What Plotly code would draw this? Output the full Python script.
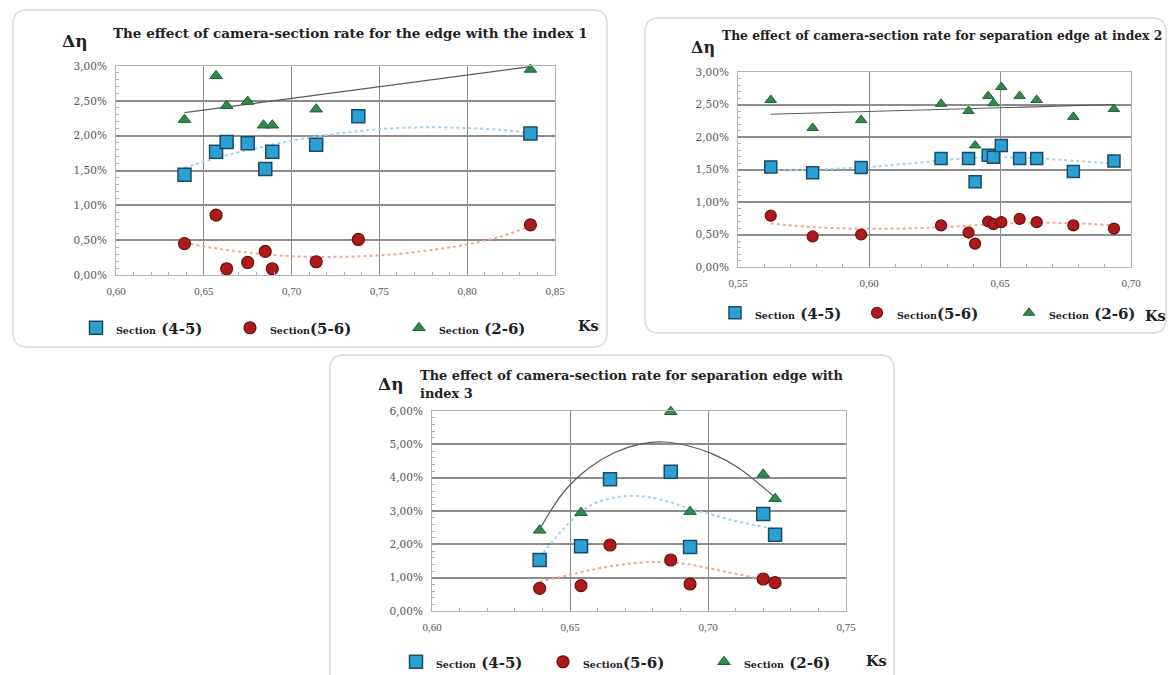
import numpy as np
import plotly.graph_objects as go

OFF = 8                # browser page body margin
W, H = 1168, 675       # figure size (drawn starting at the page margin)

# ---------------- data (Δη in %) ----------------
# Panel 1: edge with index 1
p1_x45 = [0.639, 0.657, 0.663, 0.675, 0.685, 0.689, 0.714, 0.738, 0.836]
p1_y45 = [1.44, 1.77, 1.91, 1.89, 1.52, 1.77, 1.87, 2.28, 2.03]
p1_x56 = [0.639, 0.657, 0.663, 0.675, 0.685, 0.689, 0.714, 0.738, 0.836]
p1_y56 = [0.45, 0.86, 0.09, 0.18, 0.34, 0.09, 0.19, 0.51, 0.72]
p1_x26 = [0.639, 0.657, 0.663, 0.675, 0.684, 0.689, 0.714, 0.836]
p1_y26 = [2.23, 2.86, 2.43, 2.49, 2.15, 2.15, 2.38, 2.95]
# trend lines
p1_tx = [0.639, 0.66, 0.68, 0.70, 0.72, 0.74, 0.76, 0.78, 0.80, 0.82, 0.836]
p1_t45 = [1.54, 1.70, 1.82, 1.93, 2.01, 2.07, 2.11, 2.12, 2.11, 2.08, 2.04]
p1_t56 = [0.46, 0.37, 0.31, 0.27, 0.26, 0.27, 0.30, 0.36, 0.44, 0.56, 0.70]
p1_tx26 = [0.639, 0.836]
p1_t26 = [2.33, 2.99]

# Panel 2: separation edge at index 2
p2_x = [0.5625, 0.5785, 0.597, 0.6275, 0.638, 0.6405, 0.6455, 0.6475, 0.6505,
        0.6575, 0.664, 0.678, 0.6935]
p2_y45 = [1.54, 1.45, 1.53, 1.67, 1.67, 1.31, 1.72, 1.69, 1.87, 1.67, 1.67, 1.47, 1.63]
p2_y56 = [0.79, 0.47, 0.50, 0.64, 0.53, 0.36, 0.70, 0.66, 0.69, 0.74, 0.69, 0.64, 0.59]
p2_y26 = [2.57, 2.14, 2.26, 2.51, 2.40, 1.87, 2.63, 2.52, 2.77, 2.63, 2.57, 2.31, 2.43]
p2_tx = [0.5625, 0.58, 0.60, 0.62, 0.64, 0.66, 0.68, 0.6935]
p2_t45 = [1.48, 1.50, 1.54, 1.61, 1.68, 1.68, 1.63, 1.59]
p2_t56 = [0.67, 0.61, 0.59, 0.60, 0.64, 0.68, 0.67, 0.64]
p2_tx26 = [0.5625, 0.6935]
p2_t26 = [2.35, 2.50]

# Panel 3: separation edge with index 3
p3_x = [0.639, 0.654, 0.6645, 0.6865, 0.6935, 0.720, 0.7243]
p3_y45 = [1.53, 1.94, 3.95, 4.18, 1.92, 2.91, 2.29]
p3_y56 = [0.68, 0.76, 1.98, 1.53, 0.81, 0.96, 0.85]
p3_x26 = [0.639, 0.654, 0.6865, 0.6935, 0.720, 0.7243]
p3_y26 = [2.42, 2.95, 5.98, 2.98, 4.10, 3.37]
p3_tx = [0.639, 0.648, 0.657, 0.666, 0.675, 0.684, 0.693, 0.702, 0.711, 0.7243]
p3_t45 = [1.60, 2.50, 3.15, 3.40, 3.45, 3.32, 3.08, 2.88, 2.68, 2.46]
p3_t56 = [0.88, 1.05, 1.22, 1.36, 1.45, 1.47, 1.40, 1.25, 1.10, 0.88]
p3_t26 = [2.45, 3.60, 4.30, 4.75, 5.00, 5.07, 4.95, 4.70, 4.30, 3.40]

titles = ["The effect of camera-section rate for the edge with the index 1",
          "The effect of camera-section rate for separation edge at index 2",
          "The effect of camera-section rate for separation edge with",
          "index 3"]
series_names = ["(4-5)", "(5-6)", "(2-6)"]

# ---------------- helpers (screen pixels -> paper fractions) ----------------
def px(x):
    return (x - OFF) / W

def py(y):
    return 1 - (y - OFF) / H

def pct(v):
    return np.array(v) / 100.0

SERIF = "Liberation Serif"
DSERIF = "DejaVu Serif"
C_SQ, C_SQ_L = "#2aa0d4", "#1d4a66"
C_CI, C_CI_L = "#ad1a1c", "#6e0d0f"
C_TR, C_TR_L = "#2f8a4c", "#1e6236"
C_T45, C_T56, C_T26 = "#9fd3ec", "#f2a88e", "#5a5a5a"

fig = go.Figure()

def leg_id(n):
    return "legend" if n == 1 else f"legend{n}"

def add_panel(k, xs, ys, tx, tys, tx26, legname, msz):
    xa = "x" if k == 1 else f"x{k}"
    ya = "y" if k == 1 else f"y{k}"
    base = (k - 1) * 3
    (x45, x56, x26) = xs
    (y45, y56, y26) = ys
    (t45, t56, t26) = tys
    # trend lines
    fig.add_trace(go.Scatter(x=tx, y=pct(t45), mode="lines", xaxis=xa, yaxis=ya,
                             line=dict(color=C_T45, width=2, dash="dot", shape="spline"),
                             showlegend=False, hoverinfo="skip"))
    fig.add_trace(go.Scatter(x=tx, y=pct(t56), mode="lines", xaxis=xa, yaxis=ya,
                             line=dict(color=C_T56, width=2, dash="dot", shape="spline"),
                             showlegend=False, hoverinfo="skip"))
    fig.add_trace(go.Scatter(x=tx26, y=pct(t26), mode="lines", xaxis=xa, yaxis=ya,
                             line=dict(color=C_T26, width=1.2, shape="spline"),
                             showlegend=False, hoverinfo="skip"))
    # markers
    fig.add_trace(go.Scatter(x=x45, y=pct(y45), mode="markers", xaxis=xa, yaxis=ya,
                             name=legname[0], legend=leg_id(base + 1), cliponaxis=False,
                             marker=dict(symbol="square", size=msz[0], color=C_SQ,
                                         line=dict(color=C_SQ_L, width=1.5))))
    fig.add_trace(go.Scatter(x=x56, y=pct(y56), mode="markers", xaxis=xa, yaxis=ya,
                             name=legname[1], legend=leg_id(base + 2), cliponaxis=False,
                             marker=dict(symbol="circle", size=msz[1], color=C_CI,
                                         line=dict(color=C_CI_L, width=1.2))))
    fig.add_trace(go.Scatter(x=x26, y=pct(y26), mode="markers", xaxis=xa, yaxis=ya,
                             name=legname[2], legend=leg_id(base + 3), cliponaxis=False,
                             marker=dict(symbol="triangle-up", size=msz[2], color=C_TR,
                                         line=dict(color=C_TR_L, width=1))))

def leg_label(s, space=True):
    sp = " " if space else ""
    return (f"<b><span style='font-size:9.5px'>Section</span>{sp}</b>"
            f"<b>{s}</b>")

legnames = [leg_label(series_names[0]), leg_label(series_names[1], False),
            leg_label(series_names[2])]

add_panel(1, (p1_x45, p1_x56, p1_x26), (p1_y45, p1_y56, p1_y26),
          p1_tx, (p1_t45, p1_t56, p1_t26), p1_tx26, legnames, (13, 12, 11))
add_panel(2, (p2_x, p2_x, p2_x), (p2_y45, p2_y56, p2_y26),
          p2_tx, (p2_t45, p2_t56, p2_t26), p2_tx26, legnames, (12, 11, 10))
add_panel(3, (p3_x, p3_x, p3_x26), (p3_y45, p3_y56, p3_y26),
          p3_tx, (p3_t45, p3_t56, p3_t26), p3_tx, legnames, (13, 12, 11))

xtickfont = dict(family=SERIF, size=11, color="#555")
ytickfont = dict(family=DSERIF, size=10.5, color="#555")

def xax(dom, rng, anchor):
    return dict(domain=dom, range=rng, anchor=anchor, dtick=0.05, tick0=0.5,
                tickformat=".2f", showgrid=True, gridcolor="#8c8c8c", gridwidth=1,
                showline=True, linecolor="#b5b5b5", linewidth=1, mirror=True,
                zeroline=False, ticks="", tickfont=xtickfont, automargin=False,
                ticklabelstandoff=6,
                minor=dict(dtick=0.01, tick0=0.5, ticks="inside", ticklen=3,
                           tickcolor="#b0b0b0", showgrid=False))

def yax(dom, rng, dt, mdt, anchor):
    return dict(domain=dom, range=rng, anchor=anchor, dtick=dt, tick0=0,
                tickformat=".2%", showgrid=True, gridcolor="#8c8c8c", gridwidth=1.6,
                showline=True, linecolor="#b5b5b5", linewidth=1, mirror=True,
                zeroline=False, ticks="", tickfont=ytickfont, automargin=False,
                ticklabelstandoff=6,
                minor=dict(dtick=mdt, tick0=0, ticks="inside", ticklen=3,
                           tickcolor="#b0b0b0", showgrid=False))

# plot rectangles in screen pixels (left, right, top, bottom)
P1 = (116, 555, 66, 275)
P2 = (738, 1131, 72, 267)
P3 = (432, 846, 411, 611)

def dom(P):
    return [px(P[0]), px(P[1])], [py(P[3]), py(P[2])]

d1x, d1y = dom(P1)
d2x, d2y = dom(P2)
d3x, d3y = dom(P3)

def legend_cfg(key_x, key_y):
    return dict(orientation="h", x=px(key_x - 24), xanchor="left",
                y=py(key_y), yanchor="middle",
                bgcolor="rgba(0,0,0,0)", borderwidth=0,
                font=dict(family=DSERIF, size=15, color="#222"), itemwidth=30)

legend_keys = [(100, 328), (254, 328), (423, 328),
               (739, 313), (881, 313), (1033, 313),
               (420, 662), (567, 662), (728, 662)]
legends = {}
for i, (kx, ky) in enumerate(legend_keys):
    legends[leg_id(i + 1)] = legend_cfg(kx, ky)

def rounded(x0, y0, x1, y1, r):
    X = lambda v: f"{px(v):.5f}"
    Y = lambda v: f"{py(v):.5f}"
    return (f"M {X(x0 + r)} {Y(y0)} L {X(x1 - r)} {Y(y0)} "
            f"Q {X(x1)} {Y(y0)} {X(x1)} {Y(y0 + r)} L {X(x1)} {Y(y1 - r)} "
            f"Q {X(x1)} {Y(y1)} {X(x1 - r)} {Y(y1)} L {X(x0 + r)} {Y(y1)} "
            f"Q {X(x0)} {Y(y1)} {X(x0)} {Y(y1 - r)} L {X(x0)} {Y(y0 + r)} "
            f"Q {X(x0)} {Y(y0)} {X(x0 + r)} {Y(y0)} Z")

shapes = []
for (a, b, c, d) in [(13, 10, 607, 347), (645, 18, 1166, 333), (330, 355, 894, 690)]:
    shapes.append(dict(type="path", xref="paper", yref="paper",
                       path=rounded(a, b, c, d, 14),
                       line=dict(color="#dadada", width=1.5),
                       fillcolor="rgba(0,0,0,0)", layer="below"))

ann = []
def text(x, y, s, size, xanchor="left", family=DSERIF):
    ann.append(dict(x=px(x), y=py(y), xref="paper", yref="paper", text=s,
                    showarrow=False, xanchor=xanchor, yanchor="middle",
                    font=dict(family=family, size=size, color="#222")))

text(111, 33, f"<b>{titles[0]}</b>", 13.5)
text(720, 35, f"<b>{titles[1]}</b>", 12.3)
text(418, 375, f"<b>{titles[2]}</b>", 12.95)
text(418, 393, f"<b>{titles[3]}</b>", 12.95)
text(75, 41, "<b>Δη</b>", 17, "center")
text(703, 47, "<b>Δη</b>", 16, "center")
text(391, 384, "<b>Δη</b>", 17, "center")
text(588, 325, "<b>Ks</b>", 14.5, "center")
text(1155, 315, "<b>Ks</b>", 14.5, "center")
text(876, 660, "<b>Ks</b>", 14.5, "center")

fig.update_layout(
    width=W, height=H, autosize=False,
    margin=dict(l=0, r=0, t=0, b=0, pad=0),
    paper_bgcolor="white", plot_bgcolor="white",
    separators=",.",
    xaxis=xax(d1x, [0.60, 0.85], "y"),
    yaxis=yax(d1y, [0, 0.03], 0.005, 0.001, "x"),
    xaxis2=xax(d2x, [0.55, 0.70], "y2"),
    yaxis2=yax(d2y, [0, 0.03], 0.005, 0.001, "x2"),
    xaxis3=xax(d3x, [0.60, 0.75], "y3"),
    yaxis3=yax(d3y, [0, 0.06], 0.01, 0.002, "x3"),
    shapes=shapes,
    annotations=ann,
    **legends,
)

fig.write_html("out.html")
